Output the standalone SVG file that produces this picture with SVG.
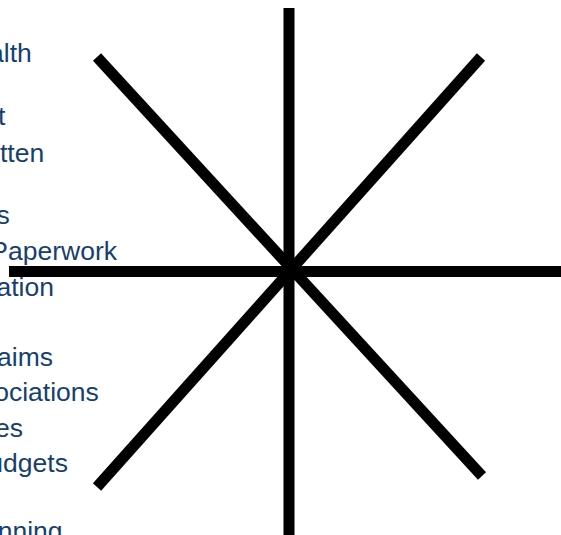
<svg xmlns="http://www.w3.org/2000/svg" width="561" height="535" viewBox="0 0 561 535">
<style>
.t{font-family:"Liberation Sans",Arial,sans-serif;font-size:26.5px;fill:#173f6e}
.l{stroke:#000;stroke-width:11;stroke-linecap:butt;fill:none}
</style>
<rect width="561" height="535" fill="#fff"/>
<g id="text-list">
<text class="t" x="-11" y="62">alth</text>
<text class="t" x="-2" y="125">t</text>
<text class="t" x="0" y="162">tten</text>
<text class="t" x="-3.5" y="224">s</text>
<text class="t" x="-9.7" y="260">Paperwork</text>
<text class="t" x="-3.5" y="296">ation</text>
<text class="t" x="-3" y="366">aims</text>
<text class="t" x="-5.8" y="401">ociations</text>
<text class="t" x="-5" y="437">es</text>
<text class="t" x="-11.7" y="472">udgets</text>
<text class="t" x="-2.3" y="540">nning</text>
</g>
<g id="connectors">
<line class="l" x1="289" y1="8" x2="289" y2="535"/>
<line class="l" x1="9" y1="271.5" x2="561" y2="271.5"/>
<line class="l" x1="97" y1="57" x2="482" y2="476"/>
<line class="l" x1="481" y1="57" x2="97" y2="487"/>
</g>
</svg>
